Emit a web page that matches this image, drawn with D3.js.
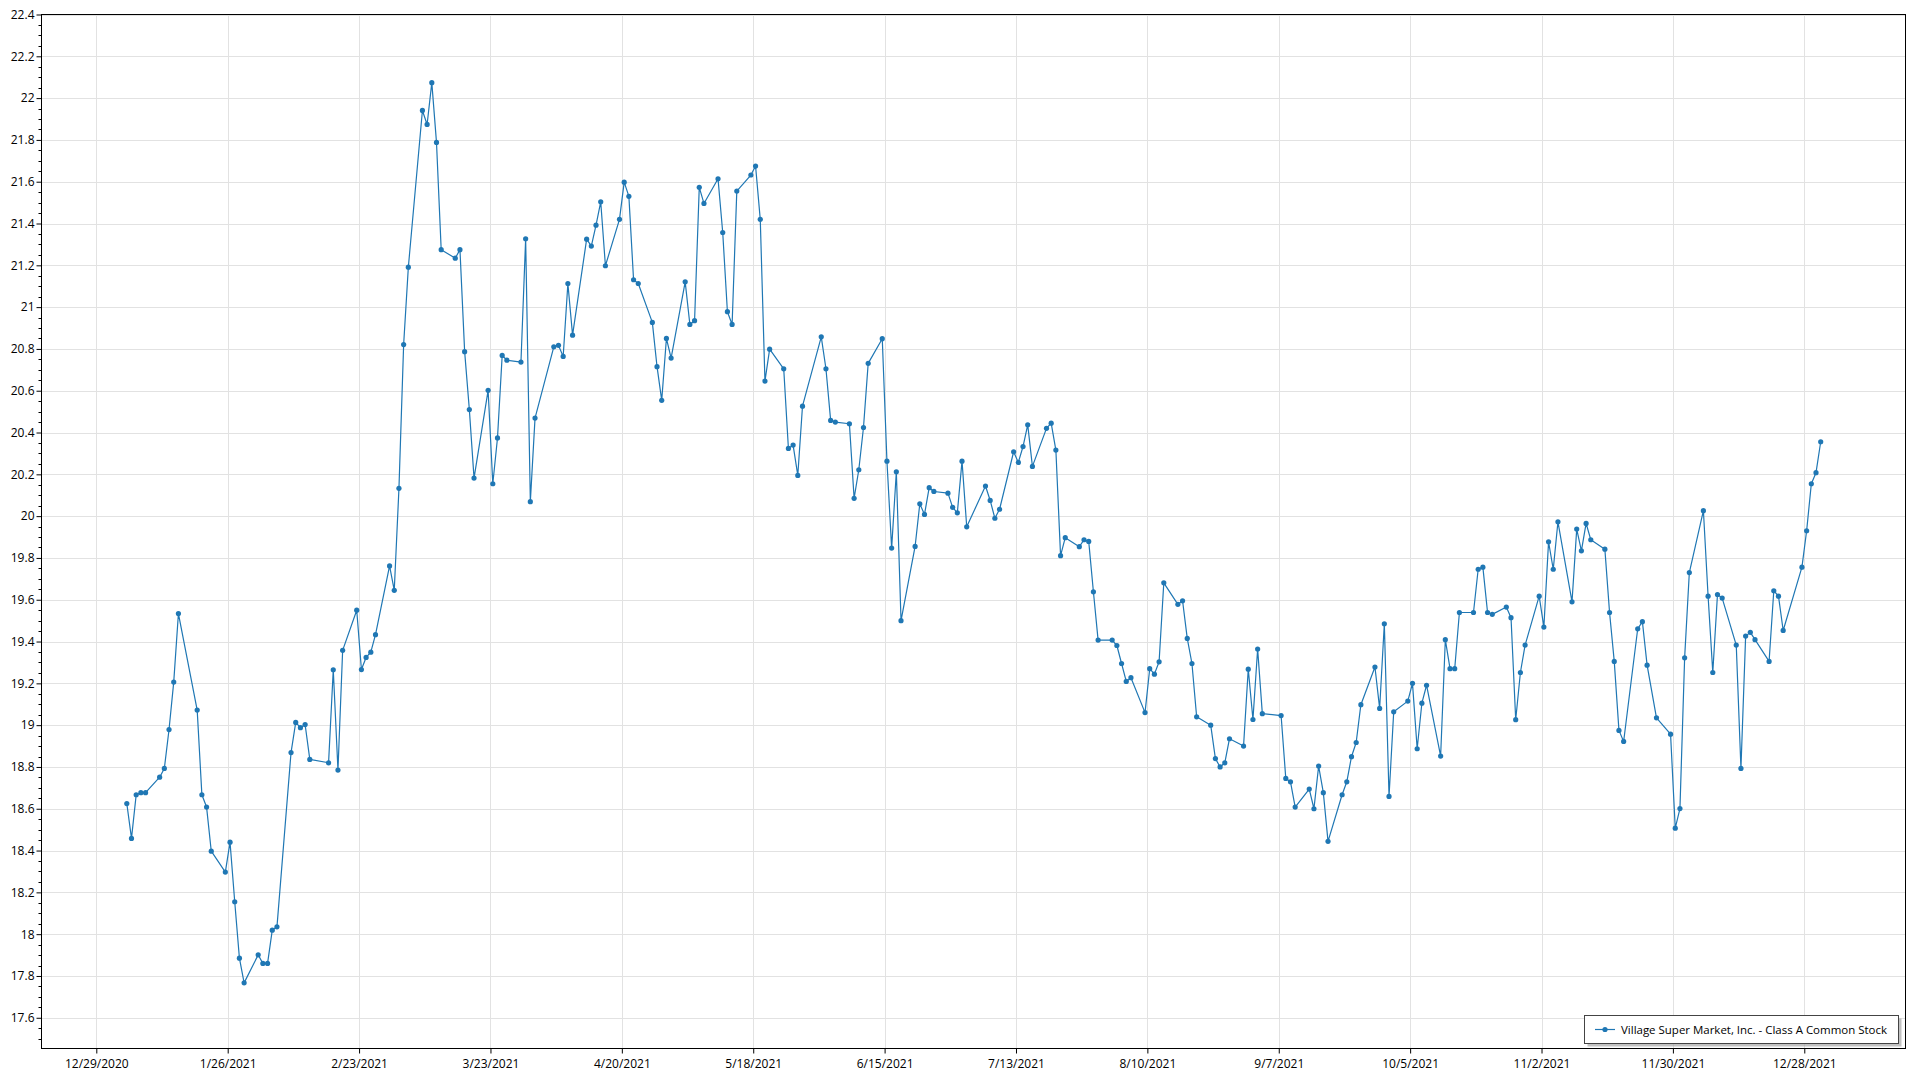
<!DOCTYPE html>
<html><head><meta charset="utf-8">
<script src="https://cdn.jsdelivr.net/npm/d3@7"></script>
<style>body{margin:0;background:#fff}svg{display:block}text{font-family:"Open Sans","Segoe UI",sans-serif;fill:#000}</style>
</head><body><svg id="c" width="1920" height="1080"></svg>
<script>
const seriesName = "Village Super Market, Inc. - Class A Common Stock";
const dates = [
"2021-01-04","2021-01-05","2021-01-06","2021-01-07","2021-01-08","2021-01-11","2021-01-12","2021-01-13","2021-01-14","2021-01-15","2021-01-19","2021-01-20","2021-01-21","2021-01-22","2021-01-25","2021-01-26","2021-01-27","2021-01-28","2021-01-29",
"2021-02-01","2021-02-02","2021-02-03","2021-02-04","2021-02-05","2021-02-08","2021-02-09","2021-02-10","2021-02-11","2021-02-12","2021-02-16","2021-02-17","2021-02-18","2021-02-19","2021-02-22","2021-02-23","2021-02-24","2021-02-25","2021-02-26",
"2021-03-01","2021-03-02","2021-03-03","2021-03-04","2021-03-05","2021-03-08","2021-03-09","2021-03-10","2021-03-11","2021-03-12","2021-03-15","2021-03-16","2021-03-17","2021-03-18","2021-03-19","2021-03-22","2021-03-23","2021-03-24","2021-03-25","2021-03-26","2021-03-29","2021-03-30","2021-03-31",
"2021-04-01","2021-04-05","2021-04-06","2021-04-07","2021-04-08","2021-04-09","2021-04-12","2021-04-13","2021-04-14","2021-04-15","2021-04-16","2021-04-19","2021-04-20","2021-04-21","2021-04-22","2021-04-23","2021-04-26","2021-04-27","2021-04-28","2021-04-29","2021-04-30",
"2021-05-03","2021-05-04","2021-05-05","2021-05-06","2021-05-07","2021-05-10","2021-05-11","2021-05-12","2021-05-13","2021-05-14","2021-05-17","2021-05-18","2021-05-19","2021-05-20","2021-05-21","2021-05-24","2021-05-25","2021-05-26","2021-05-27","2021-05-28",
"2021-06-01","2021-06-02","2021-06-03","2021-06-04","2021-06-07","2021-06-08","2021-06-09","2021-06-10","2021-06-11","2021-06-14","2021-06-15","2021-06-16","2021-06-17","2021-06-18","2021-06-21","2021-06-22","2021-06-23","2021-06-24","2021-06-25","2021-06-28","2021-06-29","2021-06-30",
"2021-07-01","2021-07-02","2021-07-06","2021-07-07","2021-07-08","2021-07-09","2021-07-12","2021-07-13","2021-07-14","2021-07-15","2021-07-16","2021-07-19","2021-07-20","2021-07-21","2021-07-22","2021-07-23","2021-07-26","2021-07-27","2021-07-28","2021-07-29","2021-07-30",
"2021-08-02","2021-08-03","2021-08-04","2021-08-05","2021-08-06","2021-08-09","2021-08-10","2021-08-11","2021-08-12","2021-08-13","2021-08-16","2021-08-17","2021-08-18","2021-08-19","2021-08-20","2021-08-23","2021-08-24","2021-08-25","2021-08-26","2021-08-27","2021-08-30","2021-08-31",
"2021-09-01","2021-09-02","2021-09-03","2021-09-07","2021-09-08","2021-09-09","2021-09-10","2021-09-13","2021-09-14","2021-09-15","2021-09-16","2021-09-17","2021-09-20","2021-09-21","2021-09-22","2021-09-23","2021-09-24","2021-09-27","2021-09-28","2021-09-29","2021-09-30",
"2021-10-01","2021-10-04","2021-10-05","2021-10-06","2021-10-07","2021-10-08","2021-10-11","2021-10-12","2021-10-13","2021-10-14","2021-10-15","2021-10-18","2021-10-19","2021-10-20","2021-10-21","2021-10-22","2021-10-25","2021-10-26","2021-10-27","2021-10-28","2021-10-29",
"2021-11-01","2021-11-02","2021-11-03","2021-11-04","2021-11-05","2021-11-08","2021-11-09","2021-11-10","2021-11-11","2021-11-12","2021-11-15","2021-11-16","2021-11-17","2021-11-18","2021-11-19","2021-11-22","2021-11-23","2021-11-24","2021-11-26","2021-11-29","2021-11-30",
"2021-12-01","2021-12-02","2021-12-03","2021-12-06","2021-12-07","2021-12-08","2021-12-09","2021-12-10","2021-12-13","2021-12-14","2021-12-15","2021-12-16","2021-12-17","2021-12-20","2021-12-21","2021-12-22","2021-12-23","2021-12-27","2021-12-28","2021-12-29","2021-12-30","2021-12-31"
];
const closes = [
18.625,18.458,18.667,18.677,18.677,18.751,18.793,18.979,19.206,19.534,19.072,18.667,18.608,18.397,18.297,18.44,18.155,17.885,17.767,
17.901,17.86,17.86,18.019,18.035,18.869,19.013,18.988,19.003,18.836,18.82,19.265,18.785,19.358,19.55,19.266,19.324,19.349,19.433,
19.762,19.645,20.133,20.821,21.191,21.941,21.874,22.074,21.788,21.275,21.234,21.275,20.787,20.51,20.182,20.602,20.155,20.374,20.769,20.746,20.737,21.327,20.069,
20.469,20.81,20.817,20.764,21.113,20.866,21.325,21.292,21.392,21.504,21.198,21.42,21.598,21.53,21.131,21.113,20.927,20.715,20.554,20.85,20.756,
21.121,20.917,20.935,21.573,21.496,21.614,21.357,20.978,20.917,21.555,21.632,21.675,21.42,20.646,20.799,20.705,20.324,20.34,20.195,20.526,
20.858,20.705,20.458,20.45,20.442,20.085,20.222,20.424,20.731,20.849,20.263,19.847,20.212,19.5,19.855,20.059,20.008,20.136,20.118,20.11,20.042,20.016,
20.263,19.949,20.144,20.075,19.99,20.033,20.308,20.257,20.333,20.437,20.238,20.42,20.445,20.316,19.811,19.897,19.854,19.887,19.879,19.638,19.407,
19.407,19.381,19.295,19.209,19.227,19.06,19.27,19.244,19.303,19.681,19.578,19.595,19.415,19.295,19.04,19.0,18.84,18.8,18.82,18.935,18.90,19.268,
19.027,19.364,19.055,19.046,18.745,18.729,18.608,18.694,18.6,18.804,18.677,18.444,18.667,18.729,18.849,18.917,19.098,19.278,19.08,19.485,18.659,
19.064,19.115,19.2,18.887,19.105,19.191,18.852,19.409,19.27,19.27,19.539,19.539,19.746,19.756,19.539,19.53,19.565,19.514,19.026,19.252,19.383,
19.617,19.469,19.877,19.746,19.973,19.59,19.938,19.834,19.965,19.887,19.842,19.539,19.305,18.975,18.922,19.461,19.495,19.287,19.035,18.957,18.507,
18.601,19.322,19.73,20.026,19.617,19.252,19.625,19.608,19.383,18.793,19.426,19.444,19.409,19.305,19.643,19.617,19.453,19.756,19.93,20.155,20.208,20.356
];
const xTickDates = ["2020-12-29","2021-01-26","2021-02-23","2021-03-23","2021-04-20","2021-05-18","2021-06-15","2021-07-13","2021-08-10","2021-09-07","2021-10-05","2021-11-02","2021-11-30","2021-12-28"];
const xTickLabels = ["12/29/2020","1/26/2021","2/23/2021","3/23/2021","4/20/2021","5/18/2021","6/15/2021","7/13/2021","8/10/2021","9/7/2021","10/5/2021","11/2/2021","11/30/2021","12/28/2021"];
const yTicks = [17.6,17.8,18,18.2,18.4,18.6,18.8,19,19.2,19.4,19.6,19.8,20,20.2,20.4,20.6,20.8,21,21.2,21.4,21.6,21.8,22,22.2,22.4];
const yTickLabels = ["17.6","17.8","18","18.2","18.4","18.6","18.8","19","19.2","19.4","19.6","19.8","20","20.2","20.4","20.6","20.8","21","21.2","21.4","21.6","21.8","22","22.2","22.4"];

const W = 1920, H = 1080;
const L = 41.5, R = 1905.5, T = 14.5, B = 1048.5;
const DAY = 86400000;
const color = "#1f77b4";
const parse = s => new Date(s + "T00:00:00Z");

const x = d3.scaleUtc()
  .domain([new Date(parse("2020-12-29") - 11.68 * DAY), new Date(+parse("2021-12-28") + 21.57 * DAY)])
  .range([L, R]);
const y = d3.scaleLinear().domain([17.453, 22.4]).range([B, T]);

const data = dates.map((d, i) => ({ t: new Date(+parse(d) + 0.5 * DAY), v: closes[i] }));

const svg = d3.select("#c");
svg.append("rect").attr("width", W).attr("height", H).attr("fill", "#fff");

const grid = svg.append("g").attr("stroke", "#e2e2e2").attr("stroke-width", 1);
grid.selectAll("line.h").data(yTicks).join("line")
  .attr("x1", L).attr("x2", R)
  .attr("y1", d => Math.round(y(d)) + 0.5).attr("y2", d => Math.round(y(d)) + 0.5);
grid.selectAll("line.v").data(xTickDates).join("line")
  .attr("y1", T).attr("y2", B)
  .attr("x1", d => Math.round(x(parse(d))) + 0.5).attr("x2", d => Math.round(x(parse(d))) + 0.5);

// Y axis
const yAxis = d3.axisLeft(y).tickValues(yTicks).tickSize(5).tickPadding(2)
  .tickFormat((d, i) => yTickLabels[i]);
const gy = svg.append("g").attr("transform", `translate(${L},0)`).call(yAxis);
const yMinor = d3.range(17.5, 22.4001, 0.05).filter(v => Math.abs(v * 5 - Math.round(v * 5)) > 1e-6 && v >= y.domain()[0]);
svg.append("g").selectAll("line").data(yMinor).join("line")
  .attr("x1", L - 3).attr("x2", L)
  .attr("y1", d => Math.round(y(d)) + 0.5).attr("y2", d => Math.round(y(d)) + 0.5)
  .attr("stroke", "#000");

// X axis
const xAxis = d3.axisBottom(x).tickValues(xTickDates.map(parse)).tickSize(5).tickPadding(6)
  .tickFormat((d, i) => xTickLabels[i]);
const gx = svg.append("g").attr("transform", `translate(0,${B})`).call(xAxis);

[gx, gy].forEach(g => {
  g.select(".domain").remove();
  g.selectAll("text").attr("font-size", 12).attr("font-family", '"Open Sans", sans-serif').attr("fill", "#000");
  g.selectAll(".tick line").attr("stroke", "#000");
});

// frame
svg.append("rect").attr("x", L).attr("y", T).attr("width", R - L).attr("height", B - T)
  .attr("fill", "none").attr("stroke", "#000").attr("stroke-width", 1);

// series
const line = d3.line().x(d => x(d.t)).y(d => y(d.v));
svg.append("path").datum(data).attr("d", line).attr("fill", "none")
  .attr("stroke", color).attr("stroke-width", 1.2).attr("stroke-linejoin", "round");
svg.append("g").selectAll("circle").data(data).join("circle")
  .attr("cx", d => x(d.t)).attr("cy", d => y(d.v)).attr("r", 2.6).attr("fill", color);

// legend
const lg = svg.append("g");
lg.append("rect").attr("x", 1587.5).attr("y", 1018.5).attr("width", 314).attr("height", 28)
  .attr("fill", "#9a9a9a").attr("opacity", 0.6);
lg.append("rect").attr("x", 1584.5).attr("y", 1015.5).attr("width", 314).attr("height", 28)
  .attr("fill", "#fff").attr("stroke", "#444").attr("stroke-width", 1);
lg.append("line").attr("x1", 1595).attr("x2", 1615).attr("y1", 1029.5).attr("y2", 1029.5)
  .attr("stroke", color).attr("stroke-width", 1.2);
lg.append("circle").attr("cx", 1605).attr("cy", 1029.5).attr("r", 2.6).attr("fill", color);
const lt = lg.append("text").attr("x", 1621).attr("y", 1033.8).attr("font-size", 12).text(seriesName);
const tl = lt.node().getComputedTextLength();
if (tl > 268) lt.attr("font-size", 12 * 266 / tl);
</script>
</body></html>
